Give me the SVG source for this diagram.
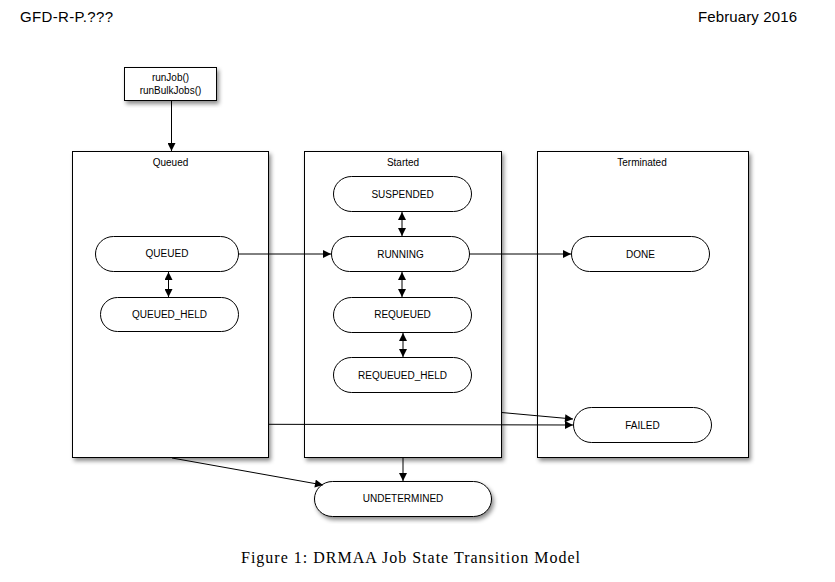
<svg xmlns="http://www.w3.org/2000/svg" width="835" height="582" viewBox="0 0 835 582">
<defs>
<filter id="sh" x="-10%" y="-10%" width="130%" height="130%">
<feDropShadow dx="2" dy="3" stdDeviation="2" flood-color="#000" flood-opacity="0.45"/>
</filter>
<marker id="ah" viewBox="0 0 10 10" refX="10" refY="5" markerWidth="10" markerHeight="8" markerUnits="userSpaceOnUse" orient="auto">
<path d="M0,0 L10,5 L0,10 z" fill="#000"/>
</marker>
<marker id="as" viewBox="0 0 10 10" refX="0" refY="5" markerWidth="10" markerHeight="8" markerUnits="userSpaceOnUse" orient="auto">
<path d="M10,0 L0,5 L10,10 z" fill="#000"/>
</marker>
</defs>
<style>
.box{fill:#fff;stroke:#000;stroke-width:1}
.pill{fill:#fff;stroke:#000;stroke-width:1}
.t{font-family:"Liberation Sans",Arial,sans-serif;font-size:10px;fill:#000;text-anchor:middle}
.hd{font-family:"Liberation Sans",Arial,sans-serif;font-size:15px;fill:#000}
.cap{font-family:"Liberation Serif","Times New Roman",serif;font-size:16px;fill:#000;text-anchor:middle}
.c{fill:none;stroke:#000;stroke-width:1}
.a{marker-end:url(#ah)}
.b{marker-start:url(#as);marker-end:url(#ah)}
</style>
<rect width="835" height="582" fill="#fff"/>
<text class="hd" x="20" y="22" textLength="93" lengthAdjust="spacing">GFD-R-P.???</text>
<text class="hd" x="698" y="22" textLength="99" lengthAdjust="spacing">February 2016</text>

<g id="start">
<rect class="box" filter="url(#sh)" x="124.5" y="67.5" width="92" height="33"/>
<text class="t" x="170.5" y="81">runJob()</text>
<text class="t" x="170.5" y="94">runBulkJobs()</text>
</g>

<g id="queued-group">
<rect class="box" filter="url(#sh)" x="72.5" y="151.5" width="196" height="306"/>
<text class="t" x="170.5" y="166">Queued</text>
</g>
<g id="started-group">
<rect class="box" filter="url(#sh)" x="304.5" y="151.5" width="197" height="306"/>
<text class="t" x="403" y="166">Started</text>
</g>
<g id="terminated-group">
<rect class="box" filter="url(#sh)" x="537.5" y="151.5" width="211" height="306"/>
<text class="t" x="642" y="166">Terminated</text>
</g>

<g id="QUEUED">
<rect class="pill" x="95.5" y="236.5" width="143" height="35" rx="18" ry="17.5"/>
<text class="t" x="167" y="257">QUEUED</text>
</g>
<g id="QUEUED_HELD">
<rect class="pill" x="100.5" y="297.5" width="138" height="34" rx="17" ry="17"/>
<text class="t" x="169.5" y="318">QUEUED_HELD</text>
</g>
<g id="SUSPENDED">
<rect class="pill" x="333.5" y="176.5" width="138" height="35" rx="18" ry="17.5"/>
<text class="t" x="402.5" y="197.5">SUSPENDED</text>
</g>
<g id="RUNNING">
<rect class="pill" x="331.5" y="236.5" width="138" height="35" rx="18" ry="17.5"/>
<text class="t" x="400.5" y="257.5">RUNNING</text>
</g>
<g id="REQUEUED">
<rect class="pill" x="333.5" y="297.5" width="138" height="35" rx="18" ry="17.5"/>
<text class="t" x="402.5" y="318">REQUEUED</text>
</g>
<g id="REQUEUED_HELD">
<rect class="pill" x="333.5" y="357.5" width="138" height="35" rx="18" ry="17.5"/>
<text class="t" x="402.5" y="378.5">REQUEUED_HELD</text>
</g>
<g id="DONE">
<rect class="pill" x="571.5" y="236.5" width="138" height="35" rx="18" ry="17.5"/>
<text class="t" x="640.5" y="257.5">DONE</text>
</g>
<g id="FAILED">
<rect class="pill" x="573.5" y="407.5" width="138" height="35" rx="18" ry="17.5"/>
<text class="t" x="642.5" y="428.5">FAILED</text>
</g>
<g id="UNDETERMINED">
<rect class="pill" filter="url(#sh)" x="314.5" y="481.5" width="177" height="35" rx="18" ry="17.5"/>
<text class="t" x="403" y="502">UNDETERMINED</text>
</g>

<g id="connectors">
<line class="c a" x1="171.5" y1="101" x2="171.5" y2="151"/>
<line class="c b" x1="168.5" y1="272" x2="168.5" y2="297"/>
<line class="c a" x1="238.5" y1="254" x2="331" y2="254"/>
<line class="c b" x1="402" y1="212" x2="402" y2="236"/>
<line class="c b" x1="402" y1="272" x2="402" y2="297"/>
<line class="c b" x1="403" y1="333" x2="403" y2="357"/>
<line class="c a" x1="469.5" y1="254" x2="571" y2="254"/>
<line class="c a" x1="501.5" y1="412.5" x2="573" y2="419"/>
<line class="c a" x1="268.5" y1="424.3" x2="573" y2="425"/>
<line class="c a" x1="172" y1="458" x2="323" y2="485"/>
<line class="c a" x1="403" y1="458" x2="403" y2="481"/>
</g>

<text class="cap" x="410.5" y="563" textLength="339" lengthAdjust="spacing">Figure 1: DRMAA Job State Transition Model</text>
</svg>
